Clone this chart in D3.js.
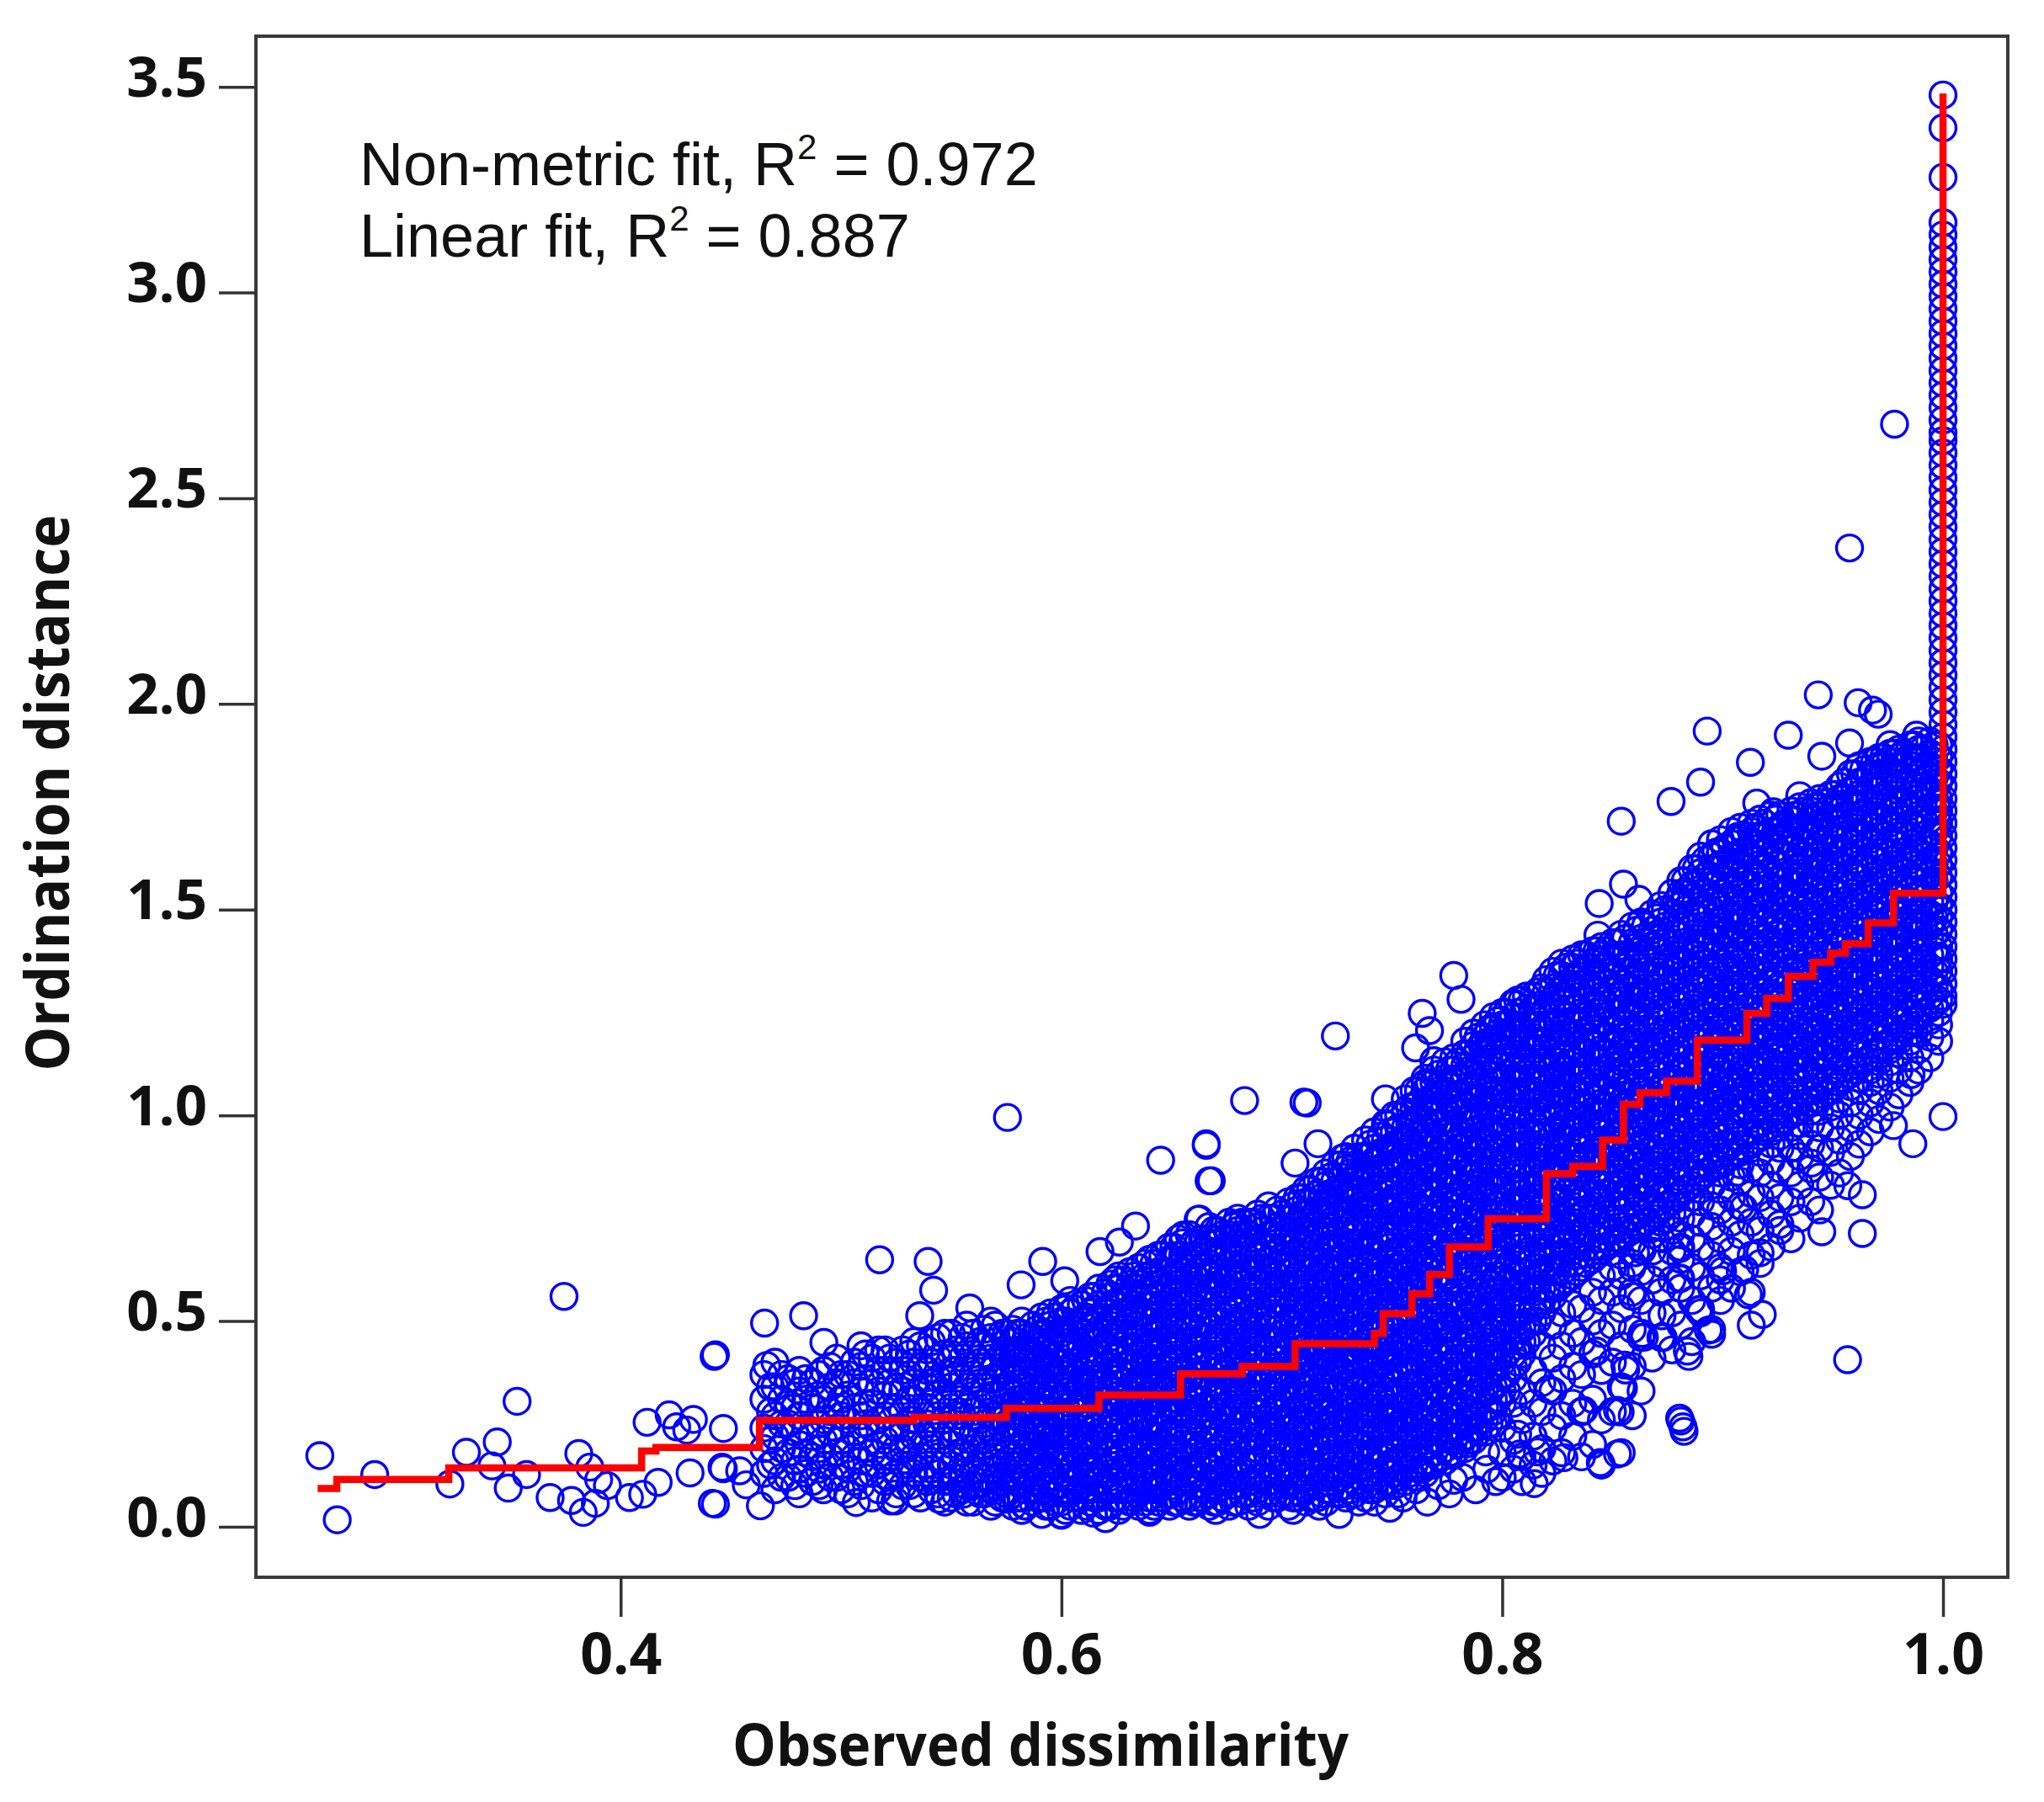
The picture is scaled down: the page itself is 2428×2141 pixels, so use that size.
<!DOCTYPE html>
<html>
<head>
<meta charset="utf-8">
<script src="https://cdn.jsdelivr.net/npm/d3@7"></script>
<style>
  body { margin: 0; background: #fff; }
</style>
</head>
<body>
<script>
// axis ticks
const xTicks = [0.4, 0.6, 0.8, 1.0];
const yTicks = [0, 0.5, 1.0, 1.5, 2.0, 2.5, 3.0, 3.5];

// fit statistics shown top-left
const fitNames = ["Non-metric fit, R", "Linear fit, R"];
const fitR2 = ["0.972", "0.887"];

// monotone (non-metric) step fit: x where each level starts, level
const stepX = [0.2625, 0.2712, 0.322, 0.4095, 0.416, 0.463, 0.533, 0.5750, 0.617, 0.654, 0.682, 0.706,
  0.742, 0.746, 0.759, 0.767, 0.776, 0.7936, 0.820, 0.832, 0.8455, 0.855, 0.8625, 0.8745, 0.8885,
  0.911, 0.920, 0.9298, 0.941, 0.949, 0.9557, 0.966, 0.9775, 1.0];
const stepY = [0.093, 0.115, 0.143, 0.184, 0.193, 0.259, 0.266, 0.288, 0.32, 0.372, 0.39, 0.445,
  0.47, 0.518, 0.566, 0.613, 0.68, 0.749, 0.858, 0.876, 0.94, 1.027, 1.055, 1.083, 1.183,
  1.248, 1.284, 1.338, 1.372, 1.394, 1.417, 1.468, 1.54, 3.484];

// isolated circles [observed dissimilarity, ordination distance]
const outliers = [
  [.2635,.173],[.2714,.017],[.2884,.127],[.3225,.104],[.330,.181],[.344,.206],[.3416,.148],[.353,.305],
  [.349,.094],[.3573,.127],[.368,.071],[.3743,.56],[.381,.178],[.3777,.064],[.383,.035],[.386,.145],
  [.39,.115],[.3885,.057],[.394,.10],[.404,.071],[.410,.079],[.412,.254],[.422,.272],[.4254,.243],
  [.433,.261],[.417,.108],[.4315,.131],[.4424,.414],[.4416,.057],[.446,.145],[.4466,.239],[.43,.235],
  [.454,.136],[.443,.418],[.4653,.495],[.483,.513],[.4922,.448],[.4663,.392],[.5175,.649],[.5395,.645],
  [.542,.575],[.5357,.513],[.5584,.532],[.5755,.995],[.5915,.645],[.5817,.588],[.6015,.598],[.6175,.669],
  [.6336,.731],[.645,.891],[.6657,.927],[.667,.841],[.6263,.692],[.662,.747],[.6553,.709],
  [.443,.055],[.4634,.051],[.457,.102],[.4466,.141],[.5069,.059],[.5225,.063],[.5245,.063],[.5445,.067],
  [.5554,.079],[.5752,.067],[.5833,.051],[.6,.028],[.6145,.033],[.6305,.063],[.6527,.059],[.665,.09],
  [.62,.02],[.64,.035],[.67,.04],[.69,.03],[.705,.04],[.717,.05],[.726,.03],[.735,.06],
  [.7243,1.193],[.6831,1.036],[.71,1.032],[.7115,1.03],[.6657,.931],[.668,.841],[.6792,.736],[.6626,.748],
  [.747,1.04],[.748,.977],[.7637,1.248],[.767,1.206],[.7607,1.164],[.769,1.133],[.765,1.078],[.772,1.078],
  [.778,1.34],[.7813,1.282],[.7907,1.172],[.805,1.273],[.8065,1.197],[.706,.884],[.7164,.931],[.7275,.896],
  [.7386,.858],[.7164,.808],[.7305,.799],
  [.742,.06],[.749,.045],[.755,.07],[.761,.09],[.766,.06],[.771,.1],[.776,.08],[.782,.12],[.788,.09],
  [.793,.14],[.797,.11],[.807,.225],[.828,.168],
  [.881,.604],[.881,.68],[.9,.622],[.89,.529],[.8635,.47],[.873,.46],[.884,.427],[.8935,.478],[.881,.257],
  [.8825,.232],[.8445,.156],[.8523,.177],[.8145,.105],[.816,.182],[.808,.177],[.7925,.182],[.778,.173],
  [.7844,.202],[.7637,.139],[.778,.113],[.7527,.08],[.837,.283],[.8523,.283],[.8556,.393],[.8428,.427],
  [.8588,.57],[.8635,.672],[.8745,.748],[.8588,.63],[.805,.30],[.821,.334],
  [.9567,.406],[.8805,.264],[.882,.243],[.8535,.279],[.8357,.279],[.855,.337],[.8847,.414],[.895,.468],
  [.889,.527],[.899,.60],[.9117,.564],[.913,.49],[.918,.516],[.91,.625],[.917,.666],[.8805,.603],
  [.8805,.676],[.926,.735],[.945,.717],[.9634,.713],[.9568,.829],[.9634,.807],[.9403,.884],[.9775,.975],
  [.9863,.931],[1.0,.997],[.9855,1.099],[.9095,.775],[.907,.862],[.867,.723],[.8605,.666],[.8645,.461],
  [.8725,.513],[.856,.381],[.987,1.205],
  [.9576,2.379],[.9434,2.022],[.9615,2.003],[.968,1.985],[.9706,1.975],[.893,1.934],[.9298,1.924],
  [.9126,1.858],[.945,1.873],[.89,1.81],[.8766,1.763],[.854,1.715],[.935,1.777],[.9155,1.759],[.923,1.738],
  [.9528,1.756],[.9576,1.905],[.988,1.924],[.976,1.901],[.855,1.562],[.844,1.515],[.862,1.525],
  [.8805,1.525],[.8434,1.438],[.868,1.434],[.8427,1.38],[.856,1.387],[.907,1.678],[.899,1.636],
  [.978,2.68]
];

// stack of points at dissimilarity 1.0, ordination distance x100
const columnAtOne = [127,129,132,135,138,141,144,147,150,153,156,159,162,165,168,171,174,177,180,183,
  186,189,192,195,198,201,204,207,210,213,216,219,222,225,228,231,234,237,240,243,246,249,252,255,258,
  261,264,266,269,272,275,278,281,284,287,290,293,296,299,302,305,308,311,314,317,328,340,348];

// cloud: each row = [dissimilarity x1000, ordination distances x100 ...]
const cloud = [
  [465, 13,19,24,31,37],
  [470, 9,16,22,27,34,40],
  [476, 12,18,25,30,36],
  [481, 8,14,20,27,33,38],
  [487, 11,17,22,29,35],
  [492, 9,15,21,26,31,38],
  [498, 12,18,24,29,35,41],
  [503, 8,14,19,26,32,37],
  [509, 10,16,22,27,33,39,44],
  [514, 7,13,18,24,30,35,41],
  [520, 11,16,21,27,32,38,43],
  [525, 8,13,19,24,29,34,40],
  [531, 10,15,20,26,31,37,42],
  [536, 7,12,17,23,28,33,39,44],
  [541, 9,14,19,24,30,35,40,45],
  [547, 6,11,16,21,26,31,36,42,47],
  [552, 8,12,17,23,27,32,38,43],
  [557, 6,10,15,19,24,29,34,39,44,49],
  [563, 8,12,16,21,26,30,35,40,45],
  [568, 5,9,14,18,23,27,32,36,41,46,50],
  [573, 7,11,15,20,24,29,33,38,42,47],
  [578, 5,8,12,15,17,21,24,27,30,33,36,40,42,45,48],
  [582, 4,7,10,14,16,19,23,26,28,31,35,38,41,43,47,50],
  [587, 6,9,11,15,18,20,24,27,30,34,36,39,42,46,49],
  [591, 3,7,10,13,17,19,22,25,29,32,34,38,41,44,47,51],
  [595, 5,8,12,14,18,21,23,27,30,33,37,39,42,45,49,52],
  [600, 3,6,9,13,16,18,22,25,28,31,34,38,40,44,47,50,53],
  [604, 5,8,11,14,17,21,24,26,30,33,36,39,43,45,48,52,55],
  [609, 4,7,10,13,17,19,22,26,29,31,35,38,41,44,47,50,54],
  [613, 6,9,12,15,18,22,25,27,31,34,37,40,42,46,49,52,56],
  [617, 4,7,11,13,16,20,23,26,29,32,35,39,41,45,48,51,54,58],
  [622, 5,9,12,15,18,21,24,28,31,33,37,40,43,46,50,53,56,59],
  [626, 4,7,10,14,17,19,23,26,29,32,36,38,42,45,48,51,55,58,61],
  [631, 6,9,12,16,18,21,25,28,30,34,37,40,43,47,50,52,56,59,62],
  [635, 5,8,11,14,17,21,24,27,31,33,36,40,42,46,49,52,55,59,63],
  [640, 4,7,10,13,16,20,23,26,29,32,35,39,41,44,48,51,54,57,61,65],
  [644, 6,9,12,15,19,22,24,28,31,34,37,40,44,47,49,53,56,59,62,66],
  [649, 5,8,11,14,18,21,23,27,30,33,36,39,43,46,49,52,55,58,62,65,68],
  [653, 6,9,13,16,18,22,25,28,31,35,38,41,44,47,50,54,57,60,63,66,70],
  [658, 5,7,11,14,17,20,23,27,30,32,36,39,42,45,49,51,55,58,61,64,68,71],
  [662, 6,10,12,15,19,22,25,28,31,34,37,41,43,47,50,53,56,60,62,66,69],
  [667, 5,8,11,14,17,21,24,27,30,33,36,39,42,46,49,52,55,58,61,64,67,70,73],
  [671, 6,9,13,16,19,22,25,28,32,35,38,41,44,47,50,53,57,60,63,66,69,72],
  [676, 5,8,11,14,18,21,23,26,30,33,36,39,42,45,48,52,55,58,61,64,67,71,74],
  [680, 6,10,13,15,19,22,25,29,31,34,38,41,44,47,50,53,56,60,63,65,69,72,75],
  [685, 5,8,11,15,18,21,24,27,30,33,37,40,43,46,49,52,55,58,62,65,68,71,74],
  [689, 6,9,12,16,19,22,25,28,32,35,38,41,44,48,51,54,57,60,63,66,70,73,76],
  [694, 5,8,11,14,17,21,24,27,30,33,36,40,43,46,49,52,56,59,62,65,68,71,75,78],
  [698, 7,10,13,16,19,22,26,29,32,35,38,41,45,48,51,54,57,61,64,67,70,73,77],
  [703, 5,8,11,15,18,21,24,27,31,34,37,40,43,46,50,53,56,59,62,65,69,72,75,79],
  [707, 7,10,13,16,20,23,26,29,32,35,39,42,45,48,51,55,58,61,64,67,70,74,77,80],
  [711, 6,9,12,15,18,22,25,28,31,34,38,41,44,47,50,53,57,60,63,66,69,72,76,79,82],
  [716, 7,10,14,17,20,23,26,30,33,36,39,42,45,49,52,55,58,61,65,68,71,74,77,81,84],
  [720, 6,9,12,16,19,22,25,28,32,35,38,41,44,48,51,54,57,60,63,67,70,73,76,79,83,86],
  [724, 8,11,14,17,21,24,27,30,33,36,40,43,46,49,52,56,59,62,65,68,71,75,78,81,84,88],
  [729, 7,10,13,16,19,23,26,29,32,35,39,42,45,48,51,55,58,61,64,67,71,74,77,80,83,87,90],
  [733, 8,11,15,18,21,24,27,31,34,37,40,43,47,50,53,56,59,63,66,69,72,75,79,82,85,88,92],
  [738, 7,10,13,17,20,23,26,29,33,36,39,42,45,49,52,55,58,61,65,68,71,74,77,81,84,87,90,94],
  [742, 9,12,15,18,22,25,28,31,34,38,41,44,47,50,54,57,60,63,66,70,73,76,79,82,86,89,92,96],
  [747, 8,11,14,17,21,24,27,30,33,37,40,43,46,49,53,56,59,62,65,69,72,75,78,81,85,88,91,94,98],
  [751, 10,13,16,19,23,26,29,32,35,39,42,45,48,51,55,58,61,64,67,71,74,77,80,83,87,90,93,96,100],
  [756, 11,14,17,21,24,27,30,33,37,40,43,46,49,53,56,59,62,65,69,72,75,78,81,85,88,91,94,97,101,104],
  [760, 12,15,19,22,25,28,31,35,38,41,44,47,51,54,57,60,63,67,70,73,76,79,83,86,89,92,95,99,102,106],
  [765, 13,16,19,23,26,29,32,35,39,42,45,48,51,55,58,61,64,67,71,74,77,80,83,87,90,93,96,99,103,106,109],
  [769, 15,18,21,24,28,31,34,37,40,44,47,50,53,56,60,63,66,69,72,76,79,82,85,88,92,95,98,101,104,108,111],
  [774, 16,19,22,26,29,32,35,38,42,45,48,51,54,58,61,64,67,70,74,77,80,83,86,90,93,96,99,102,106,109,113],
  [778, 18,21,24,27,31,34,37,40,43,47,50,53,56,59,63,66,69,72,75,79,82,85,88,91,95,98,101,104,108,111,114],
  [783, 19,22,25,29,32,35,38,41,45,48,51,54,57,61,64,67,70,73,77,80,83,86,89,93,96,99,102,105,109,112,115,118],
  [787, 21,24,27,30,34,37,40,43,46,50,53,56,59,62,66,69,72,75,78,82,85,88,91,94,98,101,104,107,110,114,117,120],
  [792, 23,26,29,33,36,39,42,45,49,52,55,58,61,65,68,71,74,77,81,84,87,90,93,97,100,103,106,109,113,116,119,122],
  [796, 25,28,31,34,38,41,44,47,50,54,57,60,63,66,70,73,76,79,82,86,89,92,95,98,102,105,108,111,114,118,121,124],
  [800, 12,18,24,30,33,37,40,43,46,50,53,56,60,63,66,69,73,76,79,83,86,89,92,96,99,102,106,109,112,115,119,122,125],
  [805, 14,21,36,39,42,46,49,52,55,59,62,65,69,72,75,78,82,85,88,92,95,98,101,105,108,111,114,118,121,124,127],
  [809, 11,17,26,33,42,45,48,52,55,58,62,65,68,71,75,78,81,85,88,91,94,98,101,104,108,111,114,117,121,124,128],
  [814, 15,22,30,38,47,50,53,57,60,63,66,70,73,76,80,83,86,89,93,96,99,103,106,109,112,116,119,122,126,129],
  [818, 13,19,28,35,44,52,55,58,62,65,68,72,75,78,81,85,88,91,95,98,101,104,108,111,114,118,121,124,127,131],
  [823, 16,24,33,41,49,56,59,62,66,69,72,76,79,82,85,89,92,95,99,102,105,108,112,115,118,122,125,128,131,135],
  [827, 18,27,36,44,52,59,62,65,69,72,75,79,82,85,88,92,95,98,102,105,108,111,115,118,121,125,128,131,134,137],
  [832, 22,30,39,47,54,61,64,67,71,74,77,80,84,87,90,94,97,100,103,107,110,113,117,120,123,126,130,133,136,138],
  [836, 17,28,37,45,53,63,66,69,72,76,79,82,86,89,92,95,99,102,105,109,112,115,118,122,125,128,132,135,139],
  [841, 20,31,42,50,57,65,68,71,75,78,81,85,88,91,94,98,101,104,108,111,114,117,121,124,127,131,134,137,140],
  [845, 15,26,38,47,55,61,67,70,73,77,80,83,87,90,93,96,100,103,106,110,113,116,119,123,126,129,133,136,139,141],
  [850, 28,40,49,57,63,69,72,75,79,82,85,89,92,95,98,102,105,108,112,115,118,121,125,128,131,135,138,142],
  [854, 18,34,44,53,61,66,70,73,77,80,83,86,90,93,96,100,103,106,109,113,116,119,123,126,129,132,136,139,144],
  [859, 27,39,48,56,64,69,72,75,79,82,85,89,92,95,98,102,105,108,112,115,118,121,125,128,131,135,138,142,146],
  [863, 33,46,55,62,68,73,76,80,83,86,90,93,96,99,103,106,109,113,116,119,122,126,129,132,136,139,143,147],
  [868, 41,52,60,67,71,75,78,82,85,88,92,95,98,101,105,108,111,115,118,121,124,128,131,134,138,141,145,149],
  [872, 46,57,64,70,74,77,80,84,87,90,94,97,100,103,107,110,113,117,120,123,126,130,133,136,140,143,147,151],
  [877, 43,52,60,67,72,76,79,82,86,89,92,96,99,102,105,109,112,115,119,122,125,128,132,135,138,142,145,149,154],
  [881, 49,58,65,71,75,78,81,84,88,91,94,98,101,104,107,111,114,117,121,124,127,130,134,137,140,144,147,151,154,157],
  [886, 45,55,63,70,76,80,83,86,90,93,96,100,103,106,109,113,116,119,123,126,129,132,136,139,142,146,149,153,156,160],
  [890, 52,61,68,74,79,82,85,88,92,95,98,102,105,108,111,115,118,121,125,128,131,134,138,141,144,148,151,155,159,163],
  [895, 48,58,66,73,78,83,87,90,94,97,100,104,107,110,113,117,120,123,127,130,133,136,140,143,146,150,153,157,160,163,166],
  [899, 55,63,70,77,82,86,88,91,95,98,101,105,108,111,114,118,121,124,128,131,134,137,141,144,147,151,154,158,161,164,167],
  [904, 58,67,74,80,85,90,93,97,100,103,107,110,113,116,120,123,126,130,133,136,139,143,146,149,153,156,160,163,166,169],
  [908, 62,71,78,84,88,91,94,98,101,104,108,111,114,117,121,124,127,131,134,137,140,144,147,150,154,157,161,164,167,170],
  [913, 57,66,74,81,87,93,96,100,103,106,110,113,116,119,123,126,129,133,136,139,142,146,149,152,156,159,163,166,169,171],
  [917, 64,72,80,86,91,95,98,102,105,108,112,115,118,121,125,128,131,135,138,141,144,148,151,154,158,161,165,168,172],
  [922, 68,76,83,89,93,96,99,103,106,109,113,116,119,122,126,129,132,136,139,142,145,149,152,155,159,162,166,169,173],
  [926, 72,80,87,92,95,98,101,105,108,111,115,118,121,124,128,131,134,138,141,144,147,151,154,157,161,164,167,170,173],
  [931, 70,79,86,92,97,100,103,107,110,113,117,120,123,126,130,133,136,140,143,146,149,153,156,159,163,166,169,172,174],
  [935, 75,83,90,95,98,101,104,108,111,114,118,121,124,127,131,134,137,141,144,147,150,154,157,160,164,167,170,173,175],
  [940, 79,87,93,98,101,103,106,110,113,116,120,123,126,129,133,136,139,143,146,149,152,156,159,162,166,169,172,174,176],
  [944, 77,85,92,97,101,104,107,111,114,117,121,124,127,130,134,137,140,144,147,150,153,157,160,163,167,170,173,175,177],
  [949, 83,91,97,102,106,109,113,116,119,123,126,129,132,136,139,142,146,149,152,155,159,162,165,169,172,175,178],
  [953, 86,94,100,104,108,111,115,118,121,125,128,131,134,138,141,144,148,151,154,157,161,164,167,171,174,177,180],
  [958, 90,97,103,107,110,113,117,120,123,127,130,133,136,140,143,146,150,153,156,159,163,166,169,173,176,179,183],
  [962, 93,100,106,109,112,115,119,122,125,129,132,135,138,142,145,148,152,155,158,161,165,168,171,175,178,181,185],
  [967, 96,103,108,111,114,117,121,124,127,131,134,137,140,144,147,150,154,157,160,163,167,170,173,177,180,183,186],
  [971, 99,106,110,113,116,119,123,126,129,133,136,139,142,146,149,152,156,159,162,165,169,172,175,179,182,185,187],
  [976, 102,109,113,116,118,121,125,128,131,135,138,141,144,148,151,154,158,161,164,167,171,174,177,181,184,186,188],
  [980, 105,111,115,118,120,123,127,130,133,137,140,143,146,150,153,156,160,163,166,169,173,176,179,182,185,187,189],
  [985, 108,114,118,120,122,125,129,132,135,139,142,145,148,152,155,158,162,165,168,171,175,178,181,184,187,190],
  [989, 111,116,120,122,124,127,131,134,137,141,144,147,150,154,157,160,164,167,170,173,177,180,183,186,189,191],
  [994, 114,119,123,126,129,133,136,139,143,146,149,152,156,159,162,166,169,172,175,179,182,185,188,191],
  [998, 118,122,125,128,131,135,138,141,145,148,151,154,158,161,164,168,171,174,177,181,184,187,190]
];

// more of the cloud, between the columns above (same layout)
const cloudCore = [
  [468, 15,21,28,34],
  [473, 12,19,25,31,37],
  [479, 10,16,23,29,35],
  [484, 13,18,24,31,36],
  [490, 10,14,19,25,32,37],
  [495, 12,17,23,28,34,39],
  [500, 9,15,21,27,31,37],
  [506, 11,17,23,29,35,40],
  [511, 13,19,25,30,36,42],
  [517, 9,15,20,26,33,38,43],
  [522, 12,17,23,29,35,41],
  [528, 10,15,19,24,28,33,38,43],
  [533, 8,13,17,22,26,31,35,40,45],
  [539, 11,15,20,25,29,34,38,43],
  [544, 8,13,17,22,27,32,36,41,46],
  [550, 7,11,15,20,24,29,34,38,42,47],
  [555, 9,13,18,22,27,31,36,41,46],
  [560, 6,10,14,19,23,28,32,37,42,47],
  [565, 8,12,17,21,25,30,34,39,44,48],
  [570, 6,10,14,18,23,27,32,36,40,45,49],
  [575, 8,12,16,21,25,29,34,38,43,47],
  [580, 7,11,15,19,23,27,31,35,39,43,47],
  [584, 5,9,13,18,22,26,30,34,38,42,46],
  [589, 7,12,16,20,24,28,32,37,41,45,48],
  [593, 5,9,14,18,22,26,31,35,39,43,47,50],
  [597, 6,10,15,19,23,27,32,36,40,44,48,51],
  [602, 4,8,12,17,21,25,29,33,37,42,46,50,53],
  [606, 7,11,15,19,23,28,32,36,40,44,49,53],
  [611, 5,9,14,18,22,26,30,35,39,43,47,51,55],
  [615, 7,11,15,20,24,28,32,36,41,45,49,53,56],
  [620, 5,10,14,18,22,27,31,35,39,44,48,52,57],
  [624, 7,11,16,20,24,28,33,37,41,45,50,54,58,60],
  [628, 5,9,13,18,22,26,30,35,39,43,47,52,56,60],
  [633, 7,11,15,20,24,28,32,37,41,45,49,54,58,61],
  [638, 6,10,14,18,23,27,31,35,40,44,48,52,57,61,64],
  [642, 5,9,13,17,22,26,30,34,39,43,47,51,56,60,64],
  [646, 7,11,16,20,24,28,33,37,41,45,50,54,58,62,66],
  [651, 6,10,14,19,23,27,31,36,40,44,48,53,57,61,65,68],
  [655, 7,11,15,20,24,28,32,37,41,45,49,54,58,62,66,69],
  [660, 6,10,14,18,23,27,31,35,40,44,48,52,57,61,65,69],
  [664, 7,12,16,20,24,29,33,37,41,46,50,54,58,63,67,70],
  [669, 6,10,14,18,23,27,31,35,40,44,48,52,57,61,65,69,72],
  [673, 7,11,16,20,24,28,33,37,41,45,50,54,58,62,67,71],
  [678, 6,10,15,19,23,27,32,36,40,44,49,53,57,61,66,70,73],
  [682, 8,12,16,21,25,29,33,38,42,46,50,55,59,63,67,71,74],
  [687, 7,11,15,19,24,28,32,36,41,45,49,53,58,62,66,70,74],
  [691, 8,12,17,21,25,29,34,38,42,46,51,55,59,63,68,72,75],
  [696, 7,11,15,20,24,28,32,37,41,45,49,54,58,62,66,71,75],
  [700, 8,13,17,21,25,30,34,38,42,47,51,55,59,64,68,72,76],
  [705, 7,11,15,20,24,28,32,37,41,45,49,54,58,62,66,71,75,78],
  [709, 8,12,17,21,25,29,34,38,42,46,51,55,59,63,68,72,76,80],
  [713, 7,11,15,20,24,28,32,37,41,45,49,54,58,62,66,71,75,79,82],
  [718, 8,12,17,21,25,29,34,38,42,46,51,55,59,63,68,72,76,80,84],
  [722, 9,13,17,22,26,30,34,39,43,47,51,56,60,64,68,73,77,81,85],
  [727, 8,12,17,21,25,29,34,38,42,46,51,55,59,63,68,72,76,80,85,88],
  [731, 9,14,18,22,26,31,35,39,43,48,52,56,60,65,69,73,77,82,86,89],
  [735, 10,14,18,23,27,31,35,40,44,48,52,57,61,65,69,74,78,82,86,90],
  [740, 9,13,17,22,26,30,34,39,43,47,51,56,60,64,68,73,77,81,85,90,93],
  [745, 10,15,19,23,27,32,36,40,44,49,53,57,61,66,70,74,78,83,87,91,95],
  [749, 11,15,20,24,28,32,37,41,45,49,54,58,62,66,71,75,79,83,88,92,96],
  [753, 12,16,21,25,29,33,38,42,46,50,55,59,63,67,72,76,80,84,89,93,97,100],
  [758, 13,17,22,26,30,34,39,43,47,51,56,60,64,68,73,77,81,85,90,94,98,102],
  [762, 14,18,23,27,31,35,40,44,48,52,57,61,65,69,74,78,82,86,91,95,99,103,106],
  [767, 15,20,24,28,32,37,41,45,49,54,58,62,66,71,75,79,83,88,92,96,100,104,108],
  [771, 17,21,25,30,34,38,42,47,51,55,59,64,68,72,76,81,85,89,93,98,102,106,110],
  [776, 18,22,27,31,35,39,44,48,52,56,61,65,69,73,78,82,86,90,95,99,103,107,111],
  [780, 20,24,28,33,37,41,45,50,54,58,62,67,71,75,79,84,88,92,96,101,105,109,113],
  [785, 21,26,30,34,38,43,47,51,55,60,64,68,72,77,81,85,89,94,98,102,106,111,115],
  [789, 23,27,31,36,40,44,48,53,57,61,65,70,74,78,82,87,91,95,99,104,108,112,116,119],
  [794, 25,29,33,38,42,46,50,55,59,63,67,72,76,80,84,89,93,97,101,106,110,114,118,121],
  [798, 27,31,35,40,44,48,52,57,61,65,69,74,78,82,86,91,95,99,103,108,112,116,120,123],
  [802, 33,37,42,46,50,54,59,63,67,71,76,80,84,88,93,97,101,105,110,114,118,122,125],
  [807, 40,44,48,53,57,61,65,70,74,78,82,87,91,95,99,104,108,112,116,121,125,128],
  [811, 45,49,54,58,62,66,71,75,79,83,88,92,96,100,105,109,113,117,122,126,129],
  [816, 50,54,58,63,67,71,75,80,84,88,92,97,101,105,109,114,118,122,126,130],
  [820, 54,58,62,67,71,75,79,84,88,92,96,101,105,109,113,118,122,126,130,133],
  [825, 58,62,66,71,75,79,83,88,92,96,100,105,109,113,117,122,126,130,134],
  [829, 60,64,69,73,77,81,86,90,94,98,103,107,111,115,120,124,128,132,136],
  [834, 62,66,71,75,79,83,88,92,96,100,105,109,113,117,122,126,130,134,137],
  [838, 64,68,72,77,81,85,89,94,98,102,106,111,115,119,123,128,132,136,139],
  [843, 66,70,74,79,83,87,91,96,100,104,108,113,117,121,125,130,134,138,140],
  [847, 68,72,76,81,85,89,93,98,102,106,110,115,119,123,127,132,136,140],
  [852, 70,74,78,83,87,91,95,100,104,108,112,117,121,125,129,134,138,142],
  [856, 71,75,80,84,88,92,97,101,105,109,114,118,122,126,131,135,139,143],
  [861, 73,77,81,86,90,94,98,103,107,111,115,120,124,128,132,137,141,145],
  [865, 74,78,83,87,91,95,100,104,108,112,117,121,125,129,134,138,142,146],
  [870, 76,80,84,89,93,97,101,106,110,114,118,123,127,131,135,140,144,148],
  [874, 78,82,86,91,95,99,103,108,112,116,120,125,129,133,137,142,146,150],
  [879, 80,84,88,93,97,101,105,110,114,118,122,127,131,135,139,144,148,152],
  [883, 82,86,90,95,99,103,107,112,116,120,124,129,133,137,141,146,150,154,157],
  [888, 84,88,92,97,101,105,109,114,118,122,126,131,135,139,143,148,152,156,160],
  [892, 86,90,94,99,103,107,111,116,120,124,128,133,137,141,145,150,154,158,162],
  [897, 88,92,96,101,105,109,113,118,122,126,130,135,139,143,147,152,156,160,164],
  [901, 89,93,97,102,106,110,114,119,123,127,131,136,140,144,148,153,157,161,165],
  [906, 91,95,99,104,108,112,116,121,125,129,133,138,142,146,150,155,159,163,167],
  [910, 92,96,101,105,109,113,118,122,126,130,135,139,143,147,152,156,160,164,168],
  [915, 94,98,103,107,111,115,120,124,128,132,137,141,145,149,154,158,162,166,170],
  [919, 96,100,104,109,113,117,121,126,130,134,138,143,147,151,155,160,164,168,171],
  [924, 97,101,106,110,114,118,123,127,131,135,140,144,148,152,157,161,165,169,172],
  [928, 99,103,107,112,116,120,124,129,133,137,141,146,150,154,158,163,167,171],
  [933, 101,105,109,114,118,122,126,131,135,139,143,148,152,156,160,165,169,173],
  [937, 102,106,111,115,119,123,128,132,136,140,145,149,153,157,162,166,170,174],
  [942, 104,108,112,117,121,125,129,134,138,142,146,151,155,159,163,168,172,175],
  [946, 105,109,114,118,122,126,131,135,139,143,148,152,156,160,165,169,173,176],
  [951, 107,111,116,120,124,128,133,137,141,145,150,154,158,162,167,171,175,178],
  [955, 109,113,117,122,126,130,134,139,143,147,151,156,160,164,168,173,177,181],
  [960, 111,115,119,124,128,132,136,141,145,149,153,158,162,166,170,175,179,183],
  [964, 113,117,121,126,130,134,138,143,147,151,155,160,164,168,172,177,181,184],
  [969, 115,119,123,128,132,136,140,145,149,153,157,162,166,170,174,179,183,186],
  [973, 117,121,125,130,134,138,142,147,151,155,159,164,168,172,176,181,185,187],
  [978, 119,123,127,132,136,140,144,149,153,157,161,166,170,174,178,183,186,188],
  [982, 121,125,129,134,138,142,146,151,155,159,163,168,172,176,180,185,188],
  [987, 123,127,131,136,140,144,148,153,157,161,165,170,174,178,182,187,190],
  [991, 125,129,133,138,142,146,150,155,159,163,167,172,176,180,184,189],
  [996, 127,131,135,140,144,148,152,157,161,165,169,174,178,182,186,190]
];

const W = 2428, H = 2141;
const margin = {top: 43, right: 43, bottom: 267, left: 304};

const unpack = rows => rows.flatMap(c => c.slice(1).map(v => [c[0] / 1000, v / 100]));
const points = outliers
  .concat(unpack(cloud))
  .concat(unpack(cloudCore))
  .concat(columnAtOne.map(v => [1.0, v / 100]));

const svg = d3.select("body").append("svg")
  .attr("width", W)
  .attr("height", H)
  .style("display", "block");

const x = d3.scaleLinear()
  .domain([0.2345, 1.0294])
  .range([margin.left, W - margin.right]);

const y = d3.scaleLinear()
  .domain([-0.1227, 3.623])
  .range([H - margin.bottom, margin.top]);

// points
svg.append("g")
  .selectAll("circle")
  .data(points)
  .join("circle")
    .attr("cx", d => x(d[0]))
    .attr("cy", d => y(d[1]))
    .attr("r", 15.5)
    .attr("fill", "none")
    .attr("stroke", "#0000ff")
    .attr("stroke-width", 3.4);

// step fit
const steps = stepX.map((v, i) => [v, stepY[i]]);
svg.append("path")
  .datum(steps)
  .attr("fill", "none")
  .attr("stroke", "#ff0000")
  .attr("stroke-width", 8.5)
  .attr("d", d3.line()
    .curve(d3.curveStepAfter)
    .x(d => x(d[0]))
    .y(d => y(d[1])));

// frame
svg.append("rect")
  .attr("x", margin.left)
  .attr("y", margin.top)
  .attr("width", W - margin.left - margin.right)
  .attr("height", H - margin.top - margin.bottom)
  .attr("fill", "none")
  .attr("stroke", "#3a3a3a")
  .attr("stroke-width", 4);

const tickFont = `"Open Sans", "DejaVu Sans", sans-serif`;

// y axis
const gy = svg.append("g")
  .attr("transform", `translate(${margin.left},0)`)
  .call(d3.axisLeft(y).tickValues(yTicks).tickSize(44).tickPadding(14).tickFormat(d3.format(".1f")));
gy.select(".domain").remove();
gy.selectAll(".tick line").attr("stroke", "#333").attr("stroke-width", 3.5);
gy.selectAll(".tick text")
  .attr("dy", "11px")
  .style("font-family", tickFont)
  .style("font-weight", "bold")
  .style("font-size", "67px")
  .attr("fill", "#111");

// x axis
const gx = svg.append("g")
  .attr("transform", `translate(0,${H - margin.bottom})`)
  .call(d3.axisBottom(x).tickValues(xTicks).tickSize(47).tickPadding(20).tickFormat(d3.format(".1f")));
gx.select(".domain").remove();
gx.selectAll(".tick line").attr("stroke", "#333").attr("stroke-width", 3.5);
gx.selectAll(".tick text")
  .style("font-family", tickFont)
  .style("font-weight", "bold")
  .style("font-size", "68px")
  .attr("fill", "#111");

// axis titles
svg.append("text")
  .attr("x", 1236)
  .attr("y", 2098)
  .attr("text-anchor", "middle")
  .attr("textLength", 732)
  .attr("lengthAdjust", "spacingAndGlyphs")
  .style("font-family", tickFont)
  .style("font-weight", "bold")
  .style("font-size", "69px")
  .attr("fill", "#111")
  .text("Observed dissimilarity");

svg.append("text")
  .attr("transform", "translate(82,942) rotate(-90)")
  .attr("text-anchor", "middle")
  .attr("textLength", 661)
  .attr("lengthAdjust", "spacingAndGlyphs")
  .style("font-family", tickFont)
  .style("font-weight", "bold")
  .style("font-size", "72px")
  .attr("fill", "#111")
  .text("Ordination distance");

// fit annotation
const note = svg.append("g")
  .style("font-family", `"Liberation Sans", Arial, sans-serif`)
  .attr("fill", "#111");
fitNames.forEach((name, i) => {
  const t = note.append("text")
    .attr("x", 427)
    .attr("y", 220 + i * 85)
    .style("font-size", "72px")
    .style("white-space", "pre");
  t.append("tspan").text(name);
  t.append("tspan").attr("dy", -31).style("font-size", "42px").text("2");
  t.append("tspan").attr("dy", 31).text(" = " + fitR2[i]);
});
</script>
</body>
</html>
